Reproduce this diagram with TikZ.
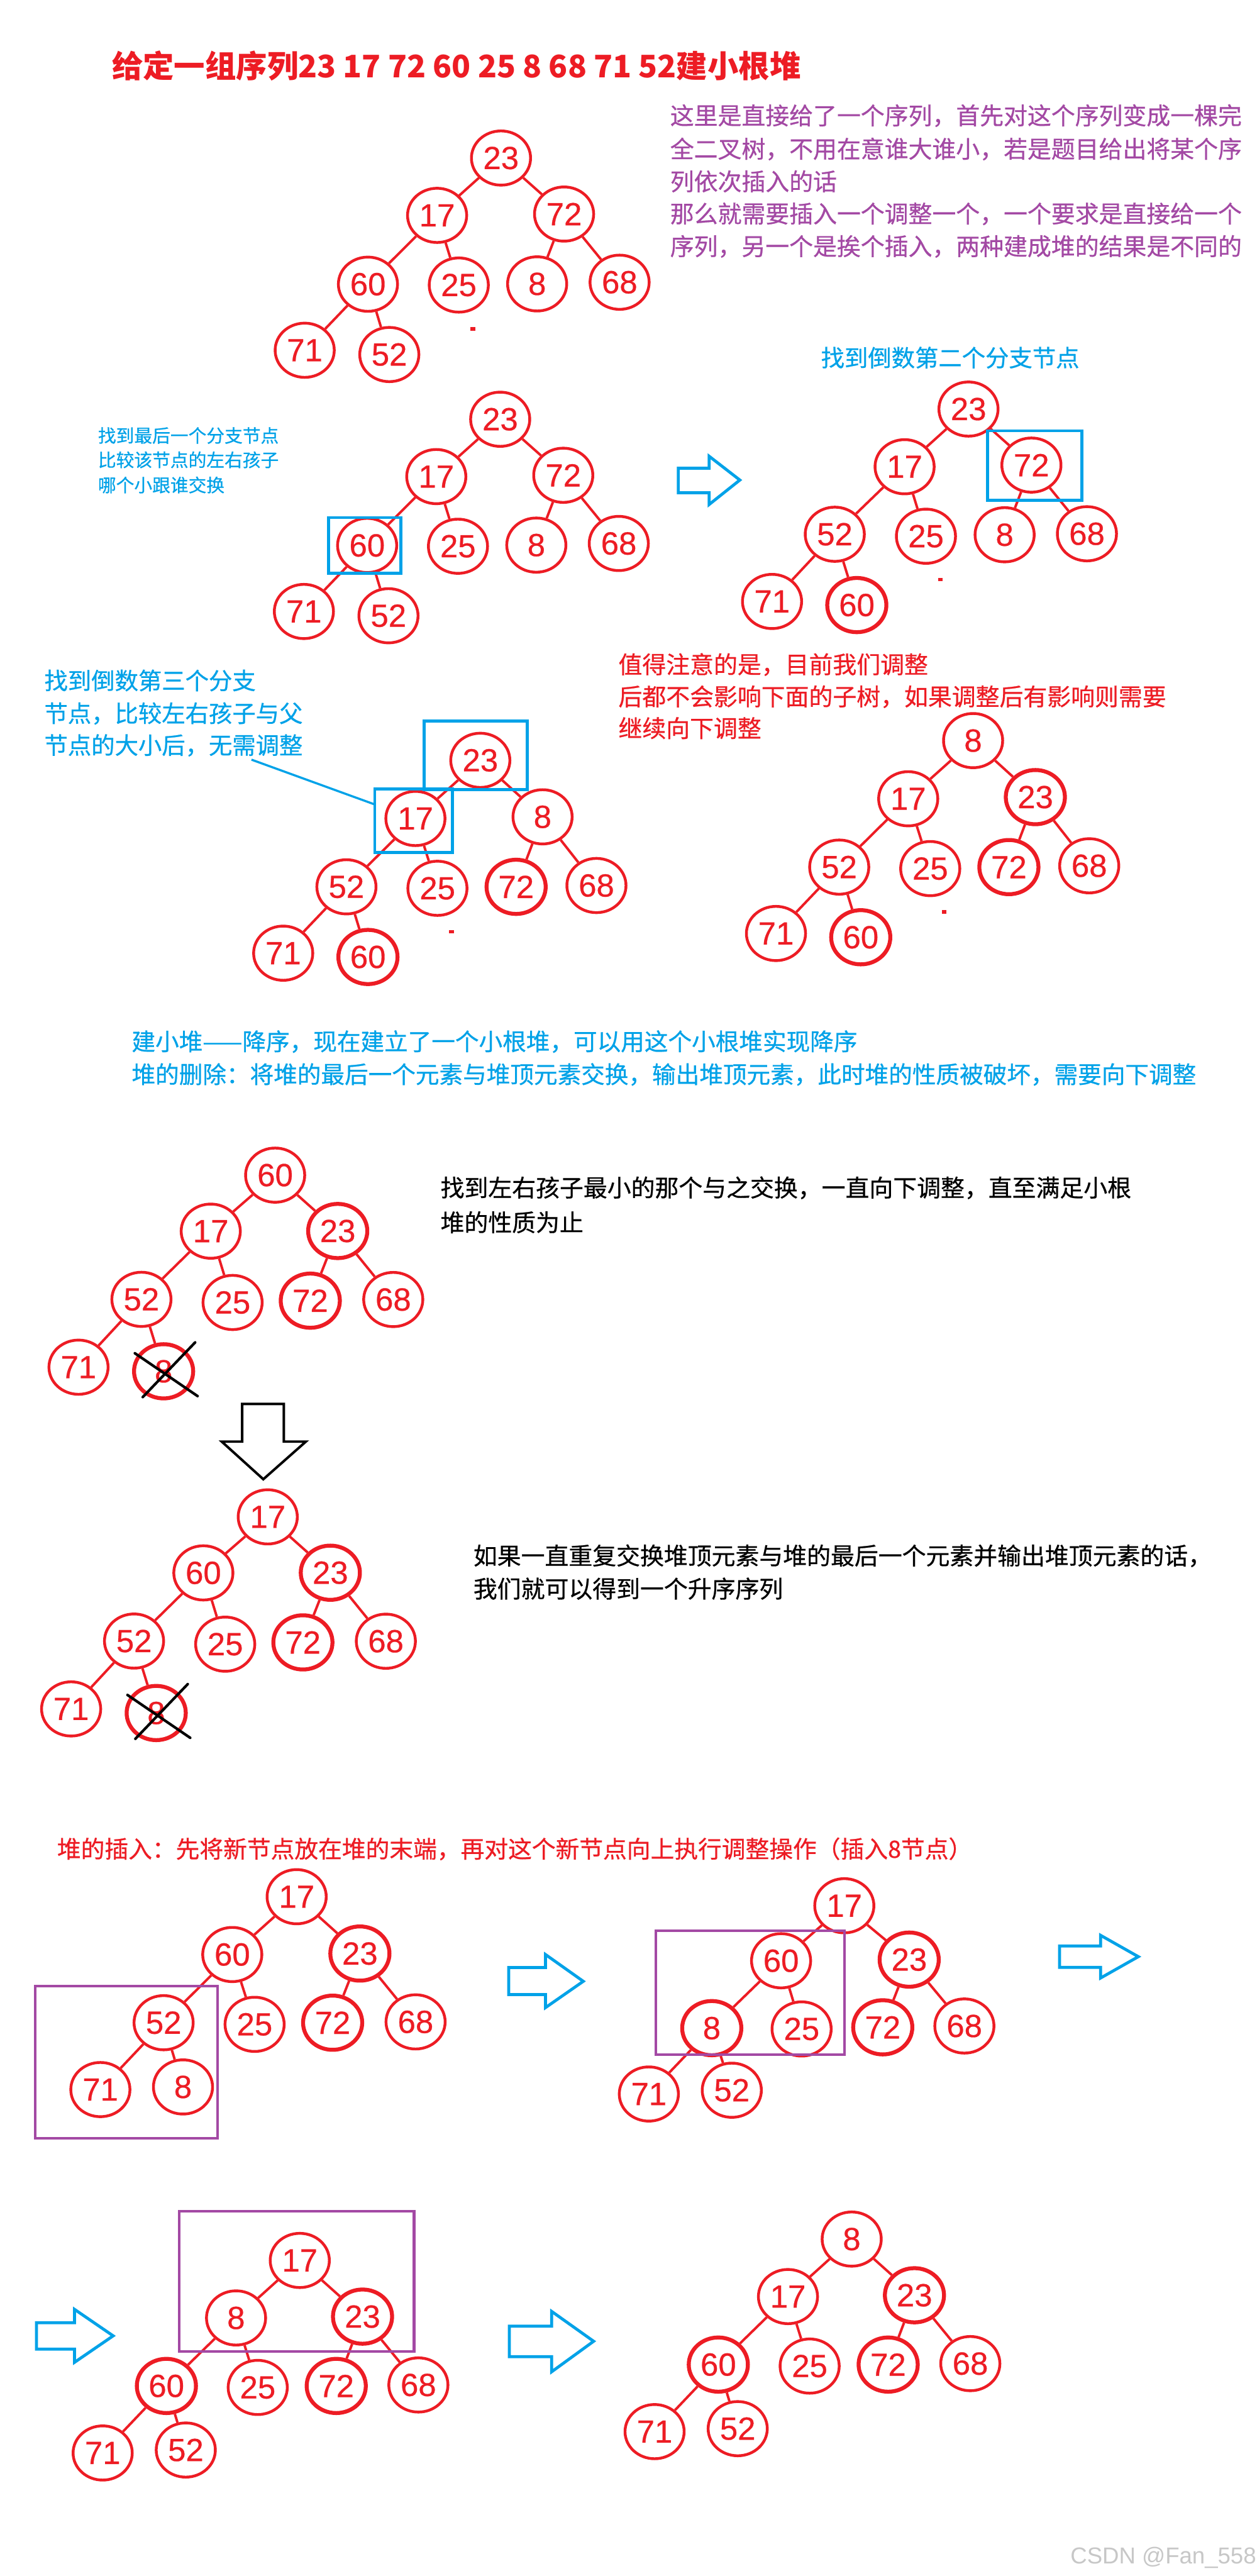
\documentclass[tikz,border=0pt]{standalone}
\usepackage{fontspec}
\usetikzlibrary{shapes.geometric}
\newfontfamily\cjk{Noto Sans CJK SC}[FakeBold=0.6]
\newfontfamily\cjkt{Noto Sans CJK SC}
\newfontfamily\numf{Liberation Sans}[FakeBold=0.5]
\newfontfamily\wmf{Liberation Sans}
\definecolor{hred}{HTML}{ED1C24}
\definecolor{hblue}{HTML}{00A2E8}
\definecolor{hpurple}{HTML}{A349A4}
\tikzset{
 nd/.style={ellipse, draw=hred, line width=1.7pt, minimum width=36pt, minimum height=33pt, inner sep=0pt, text=hred, font=\numf\fontsize{19.5}{19.5}\selectfont},
 ndk/.style={nd, line width=2.4pt},
 ed/.style={draw=hred, line width=1.5pt},
 txt/.style={anchor=west, inner sep=0pt, font=\cjk\fontsize{14.5}{14.5}\selectfont},
 brect/.style={draw=hblue, line width=1.8pt, rectangle, inner sep=0pt},
 prect/.style={draw=hpurple, line width=1.6pt, rectangle, inner sep=0pt},
 barrow/.style={draw=hblue, line width=1.8pt, line join=miter},
 xline/.style={draw=black, line width=1.6pt, line cap=round},
}
\newcommand\hedges[1]{\draw[ed] (#1a)--(#1b) (#1a)--(#1c) (#1b)--(#1d) (#1b)--(#1e) (#1c)--(#1f) (#1c)--(#1g) (#1d)--(#1h) (#1d)--(#1i);}
\newcommand\harrow[8]{\draw[barrow] (#1,#4) -- (#2,#4) -- (#2,#6) -- (#3,#8) -- (#2,#7) -- (#2,#5) -- (#1,#5) -- cycle;}
\begin{document}
\begin{tikzpicture}[x=1pt,y=-1pt]
\useasboundingbox[fill=white] (0,0) rectangle (765,1568);

% ---------- title and top text
\node[txt, text=hred, font=\cjkt\bfseries\fontsize{18.9}{18.9}\selectfont] (title) at (68,40) {给定一组序列23 17 72 60 25 8 68 71 52建小根堆};
\node[txt, text=hpurple] (p1) at (407.8,70.4) {这里是直接给了一个序列，首先对这个序列变成一棵完};
\node[txt, text=hpurple] (p2) at (407.8,90.7) {全二叉树，不用在意谁大谁小，若是题目给出将某个序};
\node[txt, text=hpurple] (p3) at (407.8,110.4) {列依次插入的话};
\node[txt, text=hpurple] (p4) at (407.8,130.2) {那么就需要插入一个调整一个，一个要求是直接给一个};
\node[txt, text=hpurple] (p5) at (407.8,150) {序列，另一个是挨个插入，两种建成堆的结果是不同的};

% ---------- tree 1
\node[nd] (t1a) at (305,96.2) {23};
\node[nd] (t1b) at (266.1,131.1) {17};
\node[nd] (t1c) at (343.4,130.3) {72};
\node[nd] (t1d) at (224,173) {60};
\node[nd] (t1e) at (279.3,173.5) {25};
\node[nd] (t1f) at (327,172.8) {8};
\node[nd] (t1g) at (377.2,171.8) {68};
\node[nd] (t1h) at (185.5,213.2) {71};
\node[nd] (t1i) at (237,215.8) {52};
\hedges{t1}
\fill[hred] (286.5,199.2) rectangle (289.5,201.2);

% ---------- tree 2
\node[txt, text=hblue, font=\cjk\fontsize{11}{11}\selectfont] (s1) at (59.5,265.1) {找到最后一个分支节点};
\node[txt, text=hblue, font=\cjk\fontsize{11}{11}\selectfont] (s2) at (59.5,279.9) {比较该节点的左右孩子};
\node[txt, text=hblue, font=\cjk\fontsize{11}{11}\selectfont] (s3) at (59.5,295.2) {哪个小跟谁交换};
\node[nd] (t2a) at (304.5,255.2) {23};
\node[nd] (t2b) at (265.6,290.1) {17};
\node[nd] (t2c) at (342.9,289.3) {72};
\node[nd] (t2d) at (223.5,332) {60};
\node[nd] (t2e) at (278.8,332.5) {25};
\node[nd] (t2f) at (326.5,331.8) {8};
\node[nd] (t2g) at (376.7,330.8) {68};
\node[nd] (t2h) at (185,372.2) {71};
\node[nd] (t2i) at (236.5,374.8) {52};
\hedges{t2}
\node[brect, minimum width=44pt, minimum height=34pt] (r2) at (222,332) {};
\harrow{412.9}{431.7}{450.4}{285}{299.9}{277.7}{307.1}{292.2}

% ---------- tree 3
\node[txt, text=hblue, font=\cjk\fontsize{14.3}{14.3}\selectfont] (h3) at (499.6,217.7) {找到倒数第二个分支节点};
\node[nd] (t3a) at (589.6,249) {23};
\node[nd] (t3b) at (550.7,284.1) {17};
\node[nd] (t3c) at (627.9,283.1) {72};
\node[nd] (t3d) at (508.2,325.2) {52};
\node[nd] (t3e) at (563.7,326.4) {25};
\node[nd] (t3f) at (611.6,325.5) {8};
\node[nd] (t3g) at (661.7,324.9) {68};
\node[nd] (t3h) at (470,366.1) {71};
\node[ndk] (t3i) at (521.6,368.3) {60};
\hedges{t3}
\node[brect, minimum width=57.4pt, minimum height=42.4pt] (r3) at (629.8,283.4) {};
\fill[hred] (571,351.8) rectangle (574,353.8);

% ---------- tree 4
\node[txt, text=hblue, font=\cjk\fontsize{14.3}{14.3}\selectfont] (b1) at (26.8,414.2) {找到倒数第三个分支};
\node[txt, text=hblue, font=\cjk\fontsize{14.3}{14.3}\selectfont] (b2) at (26.8,434.3) {节点，比较左右孩子与父};
\node[txt, text=hblue, font=\cjk\fontsize{14.3}{14.3}\selectfont] (b3) at (26.8,453.7) {节点的大小后，无需调整};
\node[nd] (t4a) at (292.4,462.8) {23};
\node[nd] (t4b) at (252.9,498.2) {17};
\node[nd] (t4c) at (330.3,497.2) {8};
\node[nd] (t4d) at (210.9,539.8) {52};
\node[nd] (t4e) at (266.3,540.7) {25};
\node[ndk] (t4f) at (314.2,539.8) {72};
\node[nd] (t4g) at (363.1,539) {68};
\node[nd] (t4h) at (172.4,580.2) {71};
\node[ndk] (t4i) at (224,582.5) {60};
\hedges{t4}
\node[brect, minimum width=62.9pt, minimum height=41.6pt] (r4a) at (289.65,459.7) {};
\node[brect, minimum width=47.3pt, minimum height=38.8pt] (r4b) at (251.75,499.6) {};
\coordinate (l4s) at (153.1,462.4);
\coordinate (l4e) at (227.7,489.5);
\draw[draw=hblue, line width=1.3pt] (l4s) -- (l4e);
\fill[hred] (273.3,566.1) rectangle (276.3,568.1);

% ---------- tree 5
\node[txt, text=hred] (n1) at (376.3,404.5) {值得注意的是，目前我们调整};
\node[txt, text=hred] (n2) at (376.3,424.1) {后都不会影响下面的子树，如果调整后有影响则需要};
\node[txt, text=hred] (n3) at (376.3,443.2) {继续向下调整};
\node[nd] (t5a) at (592.4,450.8) {8};
\node[nd] (t5b) at (552.9,486.2) {17};
\node[ndk] (t5c) at (630.3,485.2) {23};
\node[nd] (t5d) at (510.9,527.8) {52};
\node[nd] (t5e) at (566.3,528.7) {25};
\node[ndk] (t5f) at (614.2,527.8) {72};
\node[nd] (t5g) at (663.1,527) {68};
\node[nd] (t5h) at (472.4,568.2) {71};
\node[ndk] (t5i) at (524,570.5) {60};
\hedges{t5}
\fill[hred] (573.3,554.1) rectangle (576.3,556.1);

% ---------- deletion text
\node[txt, text=hblue, font=\cjk\fontsize{14.4}{14.4}\selectfont] (d1) at (80,634) {建小堆——降序，现在建立了一个小根堆，可以用这个小根堆实现降序};
\node[txt, text=hblue, font=\cjk\fontsize{14.4}{14.4}\selectfont] (d2) at (80,654) {堆的删除：将堆的最后一个元素与堆顶元素交换，输出堆顶元素，此时堆的性质被破坏，需要向下调整};

% ---------- tree 6
\node[txt] (k1) at (268,723) {找到左右孩子最小的那个与之交换，一直向下调整，直至满足小根};
\node[txt] (k2) at (268,744) {堆的性质为止};
\node[nd] (t6a) at (167.5,715.3) {60};
\node[nd] (t6b) at (128.3,749.4) {17};
\node[ndk] (t6c) at (205.6,749.3) {23};
\node[nd] (t6d) at (86.1,790.9) {52};
\node[nd] (t6e) at (141.6,792.8) {25};
\node[ndk] (t6f) at (188.9,791.7) {72};
\node[nd] (t6g) at (239.4,791) {68};
\node[nd] (t6h) at (47.8,832.2) {71};
\node[ndk] (t6i) at (99.6,834.7) {8};
\hedges{t6}
\draw[xline] (82.1,823.7) -- (120.3,849.8);
\draw[xline] (118.8,817.1) -- (86.9,850.4);

% down arrow
\draw[draw=black, line width=1.5pt, line join=miter] (147.4,854.6) -- (172.8,854.6) -- (172.8,877.5) -- (186.2,877.5) -- (160.3,900.4) -- (135,877.5) -- (147.4,877.5) -- cycle;

% ---------- tree 7
\node[txt, font=\cjk\fontsize{14.5}{14.5}\selectfont] (m1) at (288,947) {如果一直重复交换堆顶元素与堆的最后一个元素并输出堆顶元素的话，};
\node[txt, font=\cjk\fontsize{14.5}{14.5}\selectfont] (m2) at (288,967) {我们就可以得到一个升序序列};
\node[nd] (t7a) at (163,923.3) {17};
\node[nd] (t7b) at (123.8,957.4) {60};
\node[ndk] (t7c) at (201.1,957.3) {23};
\node[nd] (t7d) at (81.6,998.9) {52};
\node[nd] (t7e) at (137.1,1000.8) {25};
\node[ndk] (t7f) at (184.4,999.7) {72};
\node[nd] (t7g) at (234.9,999) {68};
\node[nd] (t7h) at (43.3,1040.2) {71};
\node[ndk] (t7i) at (95.1,1042.7) {8};
\hedges{t7}
\draw[xline] (77.6,1031.7) -- (115.8,1057.8);
\draw[xline] (114.3,1025.1) -- (82.4,1058.4);

% ---------- insertion
\node[txt, text=hred, font=\cjk\fontsize{14.45}{14.45}\selectfont] (ins) at (34.6,1125.4) {堆的插入：先将新节点放在堆的末端，再对这个新节点向上执行调整操作（插入8节点）};

% tree 8
\node[nd] (t8a) at (180.6,1154.5) {17};
\node[nd] (t8b) at (141.4,1189.7) {60};
\node[ndk] (t8c) at (219.1,1189.1) {23};
\node[nd] (t8d) at (99.6,1231.2) {52};
\node[nd] (t8e) at (155,1232.2) {25};
\node[ndk] (t8f) at (202.5,1231.2) {72};
\node[nd] (t8g) at (253,1230.7) {68};
\node[nd] (t8h) at (61.1,1271.9) {71};
\node[nd] (t8i) at (111.4,1270.3) {8};
\hedges{t8}
\node[prect, minimum width=111.2pt, minimum height=92.7pt] (r8) at (77,1255.15) {};
\harrow{309.7}{332.1}{355.1}{1197.6}{1214.1}{1189.7}{1222}{1206}

% tree 9
\node[nd] (t9a) at (514,1160) {17};
\node[nd] (t9b) at (475.5,1193.5) {60};
\node[ndk] (t9c) at (553.5,1192.8) {23};
\node[ndk] (t9d) at (433.3,1234.5) {8};
\node[nd] (t9e) at (488,1235) {25};
\node[ndk] (t9f) at (537.4,1234) {72};
\node[nd] (t9g) at (587.1,1233.2) {68};
\node[nd] (t9h) at (395,1274.6) {71};
\node[nd] (t9i) at (445.5,1272.3) {52};
\hedges{t9}
\node[prect, minimum width=114.6pt, minimum height=75.2pt] (r9) at (456.7,1212.9) {};
\harrow{645}{670}{693}{1184.5}{1197.5}{1178}{1204}{1191}

% tree 10
\harrow{22.2}{45.4}{68.9}{1413.8}{1429.9}{1405.7}{1437.9}{1421.8}
\node[nd] (t10a) at (182.5,1375.9) {17};
\node[nd] (t10b) at (143.7,1410.9) {8};
\node[ndk] (t10c) at (220.7,1410.1) {23};
\node[ndk] (t10d) at (101.3,1452.3) {60};
\node[nd] (t10e) at (156.9,1453.2) {25};
\node[ndk] (t10f) at (204.7,1452.3) {72};
\node[nd] (t10g) at (254.7,1451.7) {68};
\node[nd] (t10h) at (62.5,1493.1) {71};
\node[nd] (t10i) at (113.1,1491.3) {52};
\hedges{t10}
\node[prect, minimum width=142.9pt, minimum height=85.3pt] (r10) at (180.65,1388.65) {};
\harrow{310.1}{335.8}{361.4}{1415.9}{1434.5}{1406.9}{1443.7}{1425.1}

% tree 11
\node[nd] (t11a) at (518.5,1362.9) {8};
\node[nd] (t11b) at (479.7,1397.9) {17};
\node[ndk] (t11c) at (556.7,1397.1) {23};
\node[ndk] (t11d) at (437.3,1439.3) {60};
\node[nd] (t11e) at (492.9,1440.2) {25};
\node[ndk] (t11f) at (540.7,1439.3) {72};
\node[nd] (t11g) at (590.7,1438.7) {68};
\node[nd] (t11h) at (398.5,1480.1) {71};
\node[nd] (t11i) at (449.1,1478.3) {52};
\hedges{t11}

% watermark
\node[anchor=west, inner sep=0pt, text=black!22, font=\wmf\fontsize{14}{14}\selectfont] (wm) at (651.5,1557) {CSDN @Fan\_558};
\end{tikzpicture}
\end{document}
